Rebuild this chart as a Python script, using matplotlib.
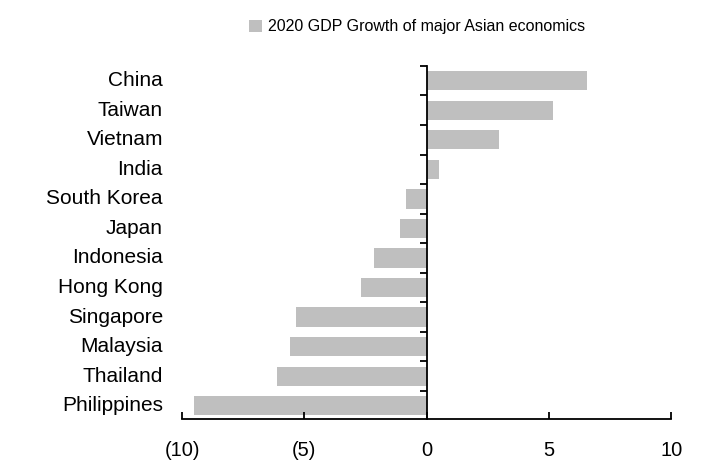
import numpy as np
import matplotlib.pyplot as plt
import matplotlib.transforms as mtransforms
from matplotlib.ticker import FuncFormatter

plt.rcParams['font.family'] = ['Liberation Sans', 'DejaVu Sans']

countries = ['China', 'Taiwan', 'Vietnam', 'India', 'South Korea', 'Japan',
             'Indonesia', 'Hong Kong', 'Singapore', 'Malaysia', 'Thailand',
             'Philippines']
growth = [6.55, 5.15, 2.95, 0.5, -0.85, -1.1, -2.15, -2.7, -5.35, -5.6,
          -6.1, -9.5]
series_name = '2020 GDP Growth of major Asian economics'

# bottom to top
cats = countries[::-1]
vals = growth[::-1]
pos = np.arange(len(cats))

fig = plt.figure(figsize=(7.11, 4.61), dpi=100)
ax = fig.add_axes([0.256, 0.091, 0.688, 0.766])

ax.barh(pos, vals, height=0.65, color='#bfbfbf', label=series_name)

ax.set_xlim(-10, 10)
ax.set_ylim(-0.45, len(cats) - 0.5)

ax.spines['top'].set_visible(False)
ax.spines['right'].set_visible(False)
ax.spines['left'].set_position(('data', 0))
ax.spines['left'].set_linewidth(1.3)
ax.spines['bottom'].set_linewidth(1.3)

ax.set_xticks([-10, -5, 0, 5, 10])
ax.xaxis.set_major_formatter(FuncFormatter(
    lambda v, p: '({:.0f})'.format(-v) if v < 0 else '{:.0f}'.format(v)))
ax.tick_params(axis='x', direction='in', length=5, width=1.3, pad=16,
               labelsize=14.5)

ax.set_yticks(pos)
ax.set_yticklabels([])
ax.set_yticks(np.arange(len(cats)) + 0.5, minor=True)
ax.tick_params(axis='y', which='major', length=0)
ax.tick_params(axis='y', which='minor', direction='out', length=5, width=1.3)

trans = mtransforms.blended_transform_factory(ax.transAxes, ax.transData)
for y, name in zip(pos, cats):
    ax.text(-0.039, y, name, transform=trans, ha='right', va='center',
            fontsize=15)

fig.legend(loc='center', bbox_to_anchor=(0.587, 0.942), frameon=False,
           handlelength=0.8, handleheight=0.8, handletextpad=0.4,
           fontsize=11.5)

fig.savefig('out.png', dpi=100)
